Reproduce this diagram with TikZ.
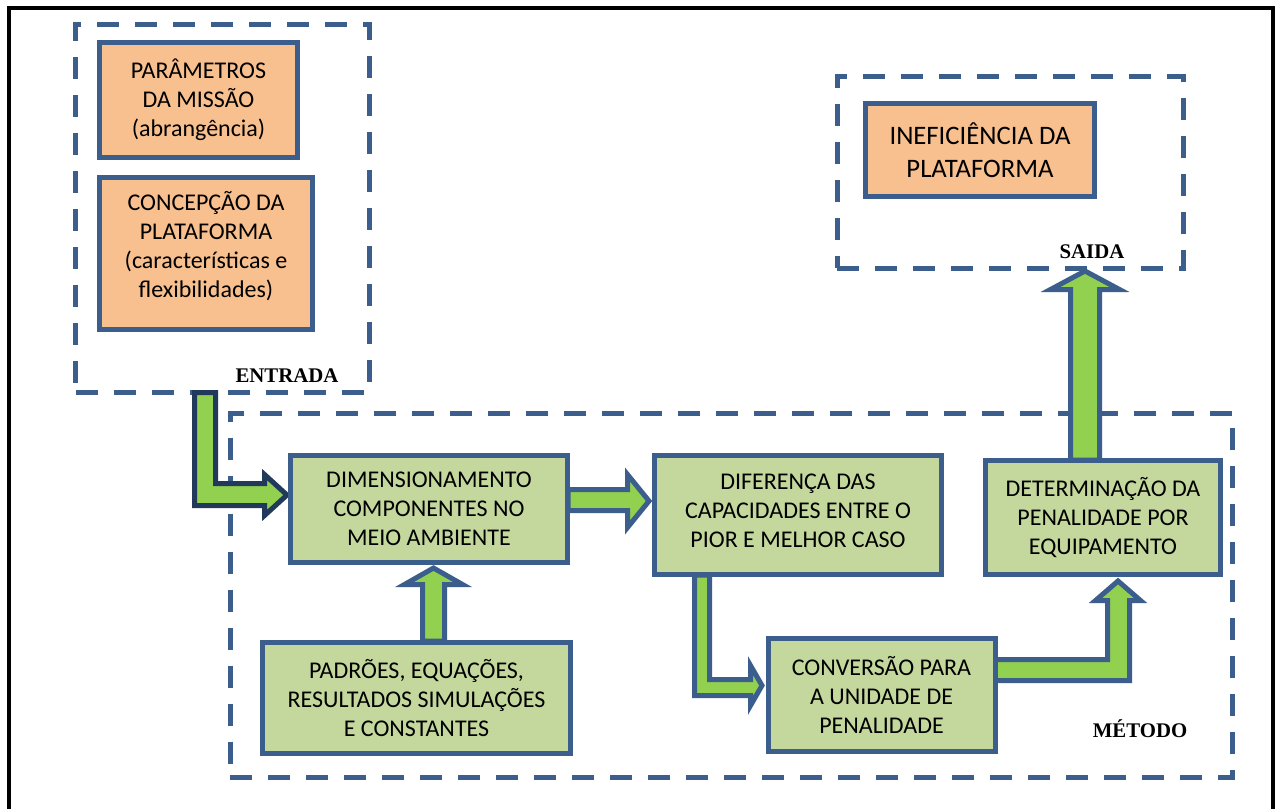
\documentclass[tikz,border=0pt]{standalone}
\usepackage{fontspec}
\setmainfont{Carlito}
\newfontfamily\lblfont{Liberation Serif}

\definecolor{boxblue}{HTML}{3B5E8D}
\definecolor{darkblue}{HTML}{213A5C}
\definecolor{arrowgreen}{HTML}{92D050}
\definecolor{peach}{HTML}{F8C08F}
\definecolor{sage}{HTML}{C4D79C}

\pgfdeclarelayer{back}
\pgfdeclarelayer{mid}
\pgfsetlayers{back,mid,main}

\tikzset{
  wsize/.style n args={2}{minimum width=#1*0.75pt, minimum height=#2*0.75pt},
  box/.style={draw=boxblue, line width=3.75pt, inner sep=0pt, outer sep=0pt,
    align=center, text=black, font=\fontsize{18}{21.75}\selectfont},
  inbox/.style={box, fill=peach},
  stepbox/.style={box, fill=sage},
  zone/.style={draw=boxblue, line width=3.75pt, dash pattern=on 16.5pt off 12pt,
    inner sep=0pt, outer sep=0pt},
  zonelabel/.style={font=\lblfont\bfseries\fontsize{15.6}{18}\selectfont,
    inner sep=0pt, anchor=base},
  barrow/.style={draw=boxblue, fill=arrowgreen, line width=3.75pt, line join=miter},
}

\begin{document}
\begin{tikzpicture}[x=0.75pt, y=-0.75pt]
\useasboundingbox (0,0) rectangle (1279,808);

\begin{pgfonlayer}{back}
  \fill[white] (0,0) rectangle (1279,808);
  \begin{scope}
    \clip (0,0) rectangle (1279,808);
    \draw[black, line width=3pt] (9,8) rectangle (1273,840);
  \end{scope}
\end{pgfonlayer}

% process blocks
\node[inbox, wsize={198}{115}] (par) at (198.5,100) {PARÂMETROS\\DA MISSÃO\\(abrangência)};
\node[inbox, wsize={213}{152}, text depth=13.5pt] (con) at (206,253.5) {CONCEPÇÃO DA\\PLATAFORMA\\(características e\\flexibilidades)};
\node[inbox, wsize={229}{93}, font=\fontsize{20}{24.75}\selectfont] (inef) at (980,150) {INEFICIÊNCIA DA\\PLATAFORMA};
\node[stepbox, wsize={277}{107}] (dim) at (429,509) {DIMENSIONAMENTO\\COMPONENTES NO\\MEIO AMBIENTE};
\node[stepbox, wsize={287}{119}, text depth=6pt] (dif) at (798,515) {DIFERENÇA DAS\\CAPACIDADES ENTRE O\\PIOR E MELHOR CASO};
\node[stepbox, wsize={235}{114}] (det) at (1103,517.5) {DETERMINAÇÃO DA\\PENALIDADE POR\\EQUIPAMENTO};
\node[stepbox, wsize={308}{111}] (pad) at (416.5,698) {PADRÕES, EQUAÇÕES,\\RESULTADOS SIMULAÇÕES\\E CONSTANTES};
\node[stepbox, wsize={227}{113}] (conv) at (881.5,695) {CONVERSÃO PARA\\A UNIDADE DE\\PENALIDADE};

% dashed zones and their labels
\begin{pgfonlayer}{back}
  \node[zone, wsize={293.5}{368}] (ent) at (222.25,208) {};
  \node[zone, wsize={346}{192}] (sai) at (1010,172) {};
  \node[zone, wsize={1002.5}{364.5}] (met) at (731.25,595.25) {};
\end{pgfonlayer}
\node[zonelabel] (entlbl) at (287,382) {ENTRADA};
\node[zonelabel] (sailbl) at (1092,258) {SAIDA};
\node[zonelabel] (metlbl) at (1140,737) {MÉTODO};

% block arrows, each placed relative to the anchor it points at
\begin{pgfonlayer}{mid}
  % entrada -> dimensionamento
  \draw[barrow, draw=darkblue, shift={(dim.west)}]
    (-96,-116.5) -- (-75,-116.5) -- (-75,-25.5) -- (-26,-25.5) -- (-26,-34.5)
    -- (-3.5,-14) -- (-26,6.5) -- (-26,-3.5) -- (-96,-3.5) -- cycle;
  % dimensionamento -> diferenca
  \draw[barrow, shift={(dif.west)}]
    (-86.5,-25.5) -- (-27,-25.5) -- (-27,-40.5) -- (-5.5,-14) -- (-27,12.5)
    -- (-27,-4.5) -- (-86.5,-4.5) -- cycle;
  % diferenca -> conversao
  \draw[barrow, shift={(conv.west)}]
    (-73.5,-120) -- (-58.5,-120) -- (-58.5,-15.5) -- (-17.5,-15.5) -- (-17.5,-29.5)
    -- (-6,-9.5) -- (-17.5,10.5) -- (-17.5,0.5) -- (-73.5,0.5) -- cycle;
  % conversao -> determinacao
  \draw[barrow, shift={(det.south)}]
    (-108,85) -- (4.5,85) -- (4.5,26) -- (-7.5,26) -- (15,6.5) -- (37.5,26)
    -- (26.5,26) -- (26.5,106) -- (-108,106) -- cycle;
  % determinacao -> saida
  \draw[barrow, shift={(sai.south)}]
    (60.5,192) -- (60.5,21.5) -- (40.5,21.5) -- (75,3) -- (109.5,21.5)
    -- (89.5,21.5) -- (89.5,192) -- cycle;
  % padroes -> dimensionamento
  \draw[barrow, shift={(dim.south)}]
    (-6.5,78.5) -- (-6.5,22) -- (-24.5,22) -- (4.5,5.5) -- (33.5,22)
    -- (15.5,22) -- (15.5,78.5) -- cycle;
\end{pgfonlayer}
\end{tikzpicture}
\end{document}
